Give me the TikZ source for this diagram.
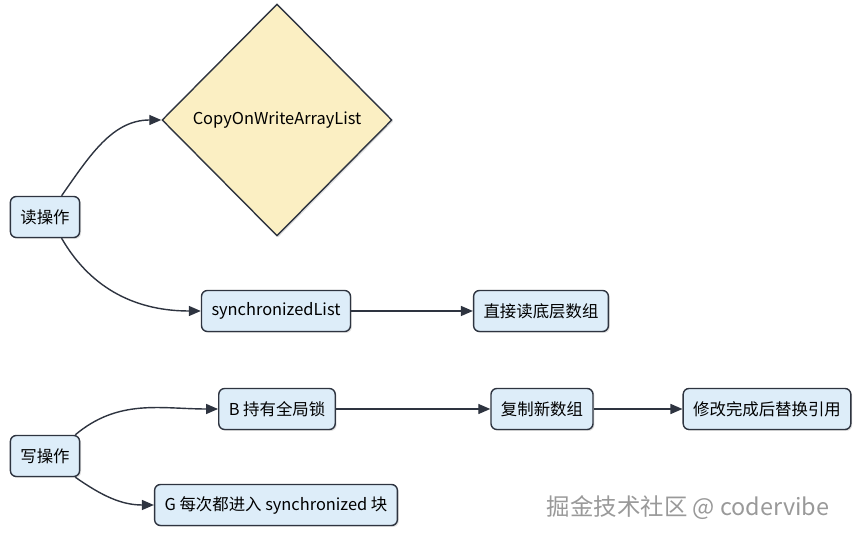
\documentclass[tikz,border=0pt]{standalone}
\usepackage{fontspec}
\setmainfont{Noto Sans CJK SC}
\usepackage{tikz}
\usetikzlibrary{shapes.geometric, arrows.meta, positioning, shadows}

\definecolor{boxfill}{HTML}{DDEDF9}
\definecolor{diafill}{HTML}{FBEFC3}
\definecolor{inkline}{HTML}{2E3440}

\begin{document}
\begin{tikzpicture}[
        x=0.03cm, y=0.03cm,
        font=\fontsize{14}{16}\selectfont,
        stepbox/.style={draw=inkline, line width=1.2pt, fill=boxfill, rounded corners=5pt,
            minimum height=1.23cm, inner xsep=0.3cm,
            drop shadow={opacity=0.25, shadow xshift=1.2pt, shadow yshift=-1.2pt}},
        choice/.style={diamond, draw=inkline, line width=1.2pt, fill=diafill,
            minimum width=6.9cm, minimum height=6.96cm, inner sep=0pt,
            drop shadow={opacity=0.25, shadow xshift=1.2pt, shadow yshift=-1.2pt}},
        link/.style={draw=inkline, line width=1.2pt, -{Triangle[length=3.6mm, width=3mm]}},
    ]
        \useasboundingbox (0,0) rectangle (862,539);

        % Read branch
        \node[stepbox] (read) at (45,322) {读操作};
        \node[choice] (cow) at (277,419) {CopyOnWriteArrayList};
        \node[stepbox] (sync) at (276,228) {synchronizedList};
        \node[stepbox] (direct) at (541,228) {直接读底层数组};

        % Write branch
        \node[stepbox] (write) at (45,83) {写操作};
        \node[stepbox] (lock) at (277,130) {B 持有全局锁};
        \node[stepbox] (copy) at (542,130) {复制新数组};
        \node[stepbox] (swap) at (767,130) {修改完成后替换引用};
        \node[stepbox] (block) at (276,34) {G 每次都进入 synchronized 块};

        % Connectors
        \draw[link] (read.52) to[out=55, in=180] (cow.west);
        \draw[link] (read.-52) to[out=-60, in=180] (sync.west);
        \draw[link] (sync) -- (direct);
        \draw[link] (write.35) to[out=40, in=180] (lock.west);
        \draw[link] (write.-35) to[out=-35, in=180] (block.west);
        \draw[link] (lock) -- (copy);
        \draw[link] (copy) -- (swap);

        % Mark
        \node[text=gray!80, font=\fontsize{20}{24}\selectfont] (mark) at (688,31) {掘金技术社区 @ codervibe};
    \end{tikzpicture}
\end{document}
